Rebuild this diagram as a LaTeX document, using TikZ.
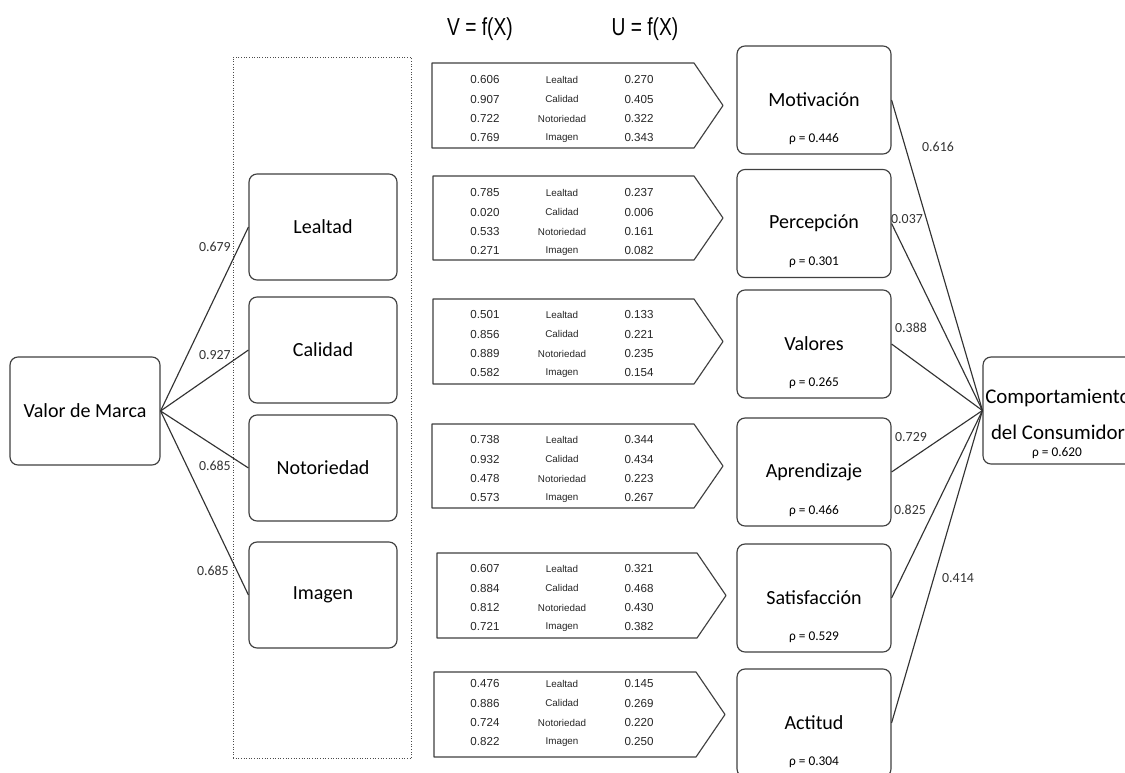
\documentclass[tikz,border=0pt]{standalone}
\usepackage{fontspec}
\setmainfont{Carlito}
\newfontfamily\arialfont{Liberation Sans}
\newfontfamily\narrowfont[FakeStretch=0.78]{Liberation Sans}
\begin{document}
\begin{tikzpicture}[x=0.02cm,y=-0.02cm,line join=round,
  box/.style={draw=black!75,line width=0.65pt,rounded corners=0.16cm,minimum width=2.96cm,minimum height=2.12cm,inner sep=0pt,align=center,font=\fontsize{11.4}{13.5}\selectfont},
  rbox/.style={box,minimum width=3.08cm,minimum height=2.16cm},
  chev/.style={draw=black!75,line width=0.65pt},
  dotbox/.style={draw=black!70,densely dotted,line width=0.5pt,minimum width=3.56cm,minimum height=14.04cm,inner sep=0pt},
  num/.style={font=\arialfont\fontsize{6.6}{7}\selectfont,inner sep=0pt,text=black!85},
  lab/.style={font=\arialfont\fontsize{5.6}{6}\selectfont,inner sep=0pt,text=black!85},
  wt/.style={font=\fontsize{7.9}{9}\selectfont,inner sep=0pt,text=black!80},
  rho/.style={font=\fontsize{7.6}{9}\selectfont,inner sep=0pt},
  hdr/.style={font=\narrowfont\fontsize{14}{16}\selectfont,inner sep=0pt},
  ctitle/.style={font=\fontsize{11.9}{20.5}\selectfont,inner sep=0pt,align=center},
  conn/.style={draw=black!80,line width=0.65pt}]
\useasboundingbox (0,0) rectangle (1125,773);
\fill[white] (0,0) rectangle (1125,773);

% headers
\node[hdr] (hv) at (480,29) {V = f(X)};
\node[hdr] (hu) at (645,29) {U = f(X)};

% dotted group
\node[dotbox] (grp) at (322,408) {};

% left side
\node[box,minimum width=3.0cm,minimum height=2.16cm] (vm) at (85,411) {Valor de Marca};
\node[box] (lea) at (323,227) {Lealtad};
\node[box] (cal) at (323,350) {Calidad};
\node[box] (not) at (323,468) {Notoriedad};
\node[box] (ima) at (323,595) {Imagen};

\draw[conn] (vm.east) -- (lea.west);
\draw[conn] (vm.east) -- (cal.west);
\draw[conn] (vm.east) -- (not.west);
\draw[conn] (vm.east) -- (ima.west);

\node[wt,anchor=east] (l1) at (231,247) {0.679};
\node[wt,anchor=east] (l2) at (231,355) {0.927};
\node[wt,anchor=east] (l3) at (231,466) {0.685};
\node[wt,anchor=east] (l4) at (229,571) {0.685};

% chevrons
\foreach \i/\xl/\yt/\yb/\tip/\rs/\va/\ua/\vb/\ub/\vc/\uc/\vd/\ud in {
  1/432/63/148/723/80/0.606/0.270/0.907/0.405/0.722/0.322/0.769/0.343,
  2/433/176/260/723/193/0.785/0.237/0.020/0.006/0.533/0.161/0.271/0.082,
  3/433/299/384/723/315/0.501/0.133/0.856/0.221/0.889/0.235/0.582/0.154,
  4/432/424/508/723/440/0.738/0.344/0.932/0.434/0.478/0.223/0.573/0.267,
  5/437/553/638/726/569/0.607/0.321/0.884/0.468/0.812/0.430/0.721/0.382,
  6/434/672/757/725/684/0.476/0.145/0.886/0.269/0.724/0.220/0.822/0.250}
{
  \draw[chev] (\xl,\yt) -- (\tip-29,\yt) -- (\tip,{(\yt+\yb)/2}) -- (\tip-29,\yb) -- (\xl,\yb) -- cycle;
  \node[num] (v\i a) at (485,\rs) {\va};
  \node[num] (v\i b) at (485,\rs+19.3) {\vb};
  \node[num] (v\i c) at (485,\rs+38.6) {\vc};
  \node[num] (v\i d) at (485,\rs+58) {\vd};
  \node[lab] (n\i a) at (562,\rs) {Lealtad};
  \node[lab] (n\i b) at (562,\rs+19.3) {Calidad};
  \node[lab] (n\i c) at (562,\rs+38.6) {Notoriedad};
  \node[lab] (n\i d) at (562,\rs+58) {Imagen};
  \node[num] (u\i a) at (639,\rs) {\ua};
  \node[num] (u\i b) at (639,\rs+19.3) {\ub};
  \node[num] (u\i c) at (639,\rs+38.6) {\uc};
  \node[num] (u\i d) at (639,\rs+58) {\ud};
}

% right boxes
\node[rbox,minimum height=2.14cm] (comp) at (1060,410.5) {};
\node[ctitle] (comp-t) at (1058,414) {Comportamiento\\del Consumidor};
\node[rho] (comp-r) at (1057,453) {ρ = 0.620};

\foreach \n/\t/\y/\r in {mot/Motivación/100/0.446, per/Percepción/223.5/0.301, val/Valores/344/0.265, apr/Aprendizaje/472/0.466, sat/Satisfacción/598/0.529, act/Actitud/723/0.304}
{
  \node[rbox] (\n) at (814,\y) {\t};
  \node[rho] (\n-r) at (814,\y+39) {ρ = \r};
  \draw[conn] (\n.east) -- (comp.west);
}

\node[wt] (w1) at (938,147) {0.616};
\node[wt] (w2) at (907,219) {0.037};
\node[wt] (w3) at (911,328) {0.388};
\node[wt] (w4) at (911,437) {0.729};
\node[wt] (w5) at (910,510) {0.825};
\node[wt] (w6) at (958,578) {0.414};
\end{tikzpicture}
\end{document}
